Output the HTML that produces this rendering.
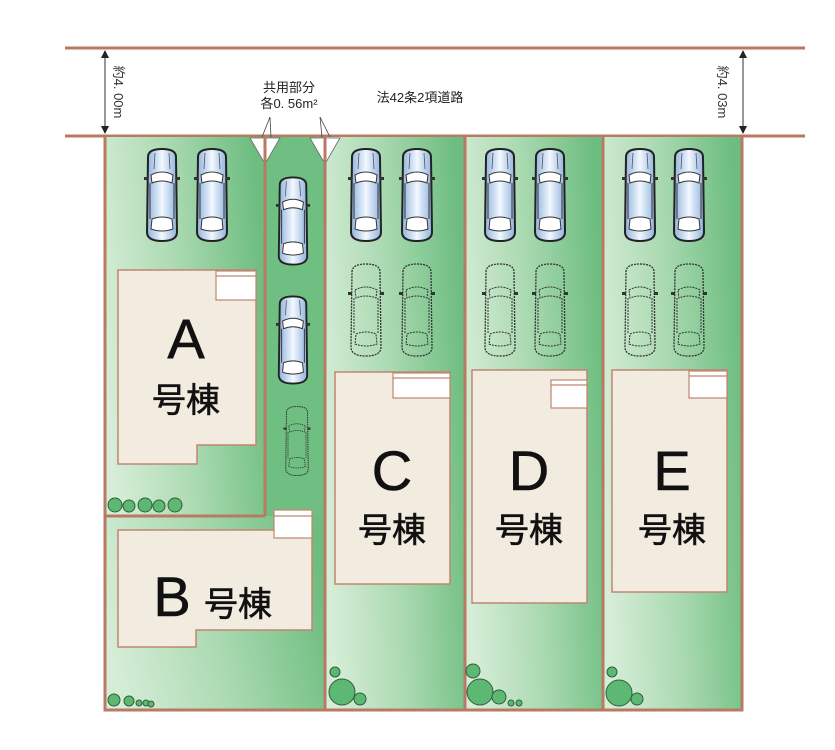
<!DOCTYPE html>
<html><head><meta charset="utf-8"><style>
html,body{margin:0;padding:0;background:#fff;width:835px;height:750px;overflow:hidden}
svg text{font-family:"Liberation Sans","Noto Sans CJK JP",sans-serif}
</style></head><body>
<svg width="835" height="750" viewBox="0 0 835 750" xmlns="http://www.w3.org/2000/svg">
<defs>
<linearGradient id="g" x1="0" y1="0.6" x2="1" y2="0.4">
<stop offset="0" stop-color="#d6edd7"/><stop offset="0.5" stop-color="#a9d9b0"/><stop offset="1" stop-color="#6dbd80"/>
</linearGradient>
<linearGradient id="cb" x1="0" y1="0" x2="1" y2="0">
<stop offset="0" stop-color="#8fb2dc"/><stop offset="0.5" stop-color="#f2f8ff"/><stop offset="1" stop-color="#8fb2dc"/>
</linearGradient>
<symbol id="car" viewBox="0 0 38 96">
<path d="M5 10 Q5 2 19 2 Q33 2 33 10 L34 85 Q34 94 19 94 Q4 94 4 85 Z" fill="url(#cb)" stroke="#222" stroke-width="2"/>
<path d="M8 28 Q19 22 30 28 L29 36 Q19 32 9 36 Z" fill="#fff" stroke="#333" stroke-width="1"/>
<path d="M9 72 Q19 68 29 72 L30 82 Q19 86 8 82 Z" fill="#fff" stroke="#333" stroke-width="1"/>
<line x1="7" y1="36" x2="7" y2="72" stroke="#333" stroke-width="1"/>
<line x1="31" y1="36" x2="31" y2="72" stroke="#333" stroke-width="1"/>
<path d="M12 6 L11 22 M26 6 L27 22" stroke="#555" stroke-width="0.8" fill="none"/>
<rect x="1" y="30" width="4" height="3" fill="#333"/><rect x="33" y="30" width="4" height="3" fill="#333"/>
</symbol>
<symbol id="ghost" viewBox="0 0 38 96">
<path d="M5 10 Q5 2 19 2 Q33 2 33 10 L34 85 Q34 94 19 94 Q4 94 4 85 Z" fill="none" stroke="#333" stroke-width="1.3" stroke-dasharray="2 1"/>
<path d="M8 28 Q19 22 30 28 L29 36 Q19 32 9 36 Z" fill="none" stroke="#333" stroke-width="1" stroke-dasharray="2 1"/>
<path d="M9 72 Q19 68 29 72 L30 82 Q19 86 8 82 Z" fill="none" stroke="#333" stroke-width="1" stroke-dasharray="2 1"/>
<line x1="7" y1="36" x2="7" y2="72" stroke="#333" stroke-width="1" stroke-dasharray="2 1"/>
<line x1="31" y1="36" x2="31" y2="72" stroke="#333" stroke-width="1" stroke-dasharray="2 1"/>
<rect x="1" y="30" width="4" height="3" fill="#333"/><rect x="33" y="30" width="4" height="3" fill="#333"/>
</symbol>
</defs>

<!-- road -->
<line x1="65" y1="48" x2="805" y2="48" stroke="#b87a62" stroke-width="3"/>
<line x1="65" y1="136" x2="805" y2="136" stroke="#b87a62" stroke-width="3"/>
<line x1="105" y1="52" x2="105" y2="132" stroke="#333" stroke-width="1"/>
<path d="M101 58 L105 50 L109 58 Z M101 126 L105 134 L109 126 Z" fill="#222"/>
<line x1="743" y1="52" x2="743" y2="132" stroke="#333" stroke-width="1"/>
<path d="M739 58 L743 50 L747 58 Z M739 126 L743 134 L747 126 Z" fill="#222"/>
<text transform="translate(114,92) rotate(90)" font-size="13" text-anchor="middle" fill="#333">約4. 00m</text>
<text transform="translate(718,92) rotate(90)" font-size="13" text-anchor="middle" fill="#333">約4. 03m</text>
<text x="289" y="92" font-size="13" text-anchor="middle" fill="#222">共用部分</text>
<text x="289" y="108" font-size="13" text-anchor="middle" fill="#222">各0. 56m²</text>
<text x="420" y="102" font-size="13" text-anchor="middle" fill="#222">法42条2項道路</text>

<!-- lots -->
<rect x="105" y="137" width="160" height="379" fill="url(#g)"/>
<rect x="105" y="516" width="220" height="194" fill="url(#g)"/>
<rect x="265" y="137" width="60" height="379" fill="#6fbf82"/>
<rect x="325" y="137" width="140" height="573" fill="url(#g)"/>
<rect x="465" y="137" width="138" height="573" fill="url(#g)"/>
<rect x="603" y="137" width="139" height="573" fill="url(#g)"/>
<g stroke="#b87a62" stroke-width="3" fill="none">
<path d="M105 136 L105 710 L742 710 L742 136"/>
<line x1="265" y1="136" x2="265" y2="516"/>
<line x1="105" y1="516" x2="265" y2="516"/>
<line x1="325" y1="136" x2="325" y2="710"/>
<line x1="465" y1="136" x2="465" y2="710"/>
<line x1="603" y1="136" x2="603" y2="710"/>
</g>
<!-- triangles -->
<path d="M250 138 L265 164 L280 138 Z M310 138 L325 164 L340 138 Z" fill="#fff" stroke="#666" stroke-width="0.8"/>
<line x1="265" y1="137" x2="265" y2="164" stroke="#b87a62" stroke-width="3"/>
<line x1="325" y1="137" x2="325" y2="164" stroke="#b87a62" stroke-width="3"/>
<path d="M270 117 L262 137 M270 117 L271 137 M320 117 L322 137 M320 117 L330 137" stroke="#444" stroke-width="0.8"/>

<!-- houses -->
<g fill="#f2ece0" stroke="#c08670" stroke-width="1.5">
<path d="M118 270 L256 270 L256 445 L197 445 L197 464 L118 464 Z"/>
<path d="M118 530 L312 530 L312 630 L196 630 L196 647 L118 647 Z"/>
<rect x="335" y="372" width="115" height="212"/>
<rect x="472" y="370" width="115" height="233"/>
<rect x="612" y="370" width="115" height="222"/>
</g>
<g fill="#fff" stroke="#c08670" stroke-width="1.2">
<rect x="216" y="271" width="40" height="29"/><line x1="216" y1="276" x2="256" y2="276"/>
<rect x="274" y="510" width="38" height="28"/><line x1="274" y1="516" x2="312" y2="516"/>
<rect x="393" y="373" width="57" height="25"/><line x1="393" y1="378" x2="450" y2="378"/>
<rect x="551" y="380" width="36" height="28"/><line x1="551" y1="385" x2="587" y2="385"/>
<rect x="689" y="371" width="38" height="27"/><line x1="689" y1="376" x2="727" y2="376"/>
</g>

<!-- labels -->
<g fill="#111" text-anchor="middle" stroke="#111" stroke-width="0.6">
<text x="186" y="358" font-size="56">A</text>
<text x="186" y="412" font-size="34">号棟</text>
<text x="172" y="616" font-size="56">B</text>
<text x="238" y="616" font-size="34">号棟</text>
<text x="392" y="490" font-size="56">C</text>
<text x="392" y="542" font-size="34">号棟</text>
<text x="529" y="490" font-size="56">D</text>
<text x="529" y="542" font-size="34">号棟</text>
<text x="672" y="490" font-size="56">E</text>
<text x="672" y="542" font-size="34">号棟</text>
</g>

<!-- cars -->
<use href="#car" x="143" y="147" width="38" height="96"/>
<use href="#car" x="193" y="147" width="38" height="96"/>
<use href="#car" x="347" y="147" width="38" height="96"/>
<use href="#car" x="398" y="147" width="38" height="96"/>
<use href="#car" x="481" y="147" width="38" height="96"/>
<use href="#car" x="531" y="147" width="38" height="96"/>
<use href="#car" x="621" y="147" width="38" height="96"/>
<use href="#car" x="670" y="147" width="38" height="96"/>
<use href="#car" x="275" y="173" width="36" height="96"/>
<use href="#car" x="275" y="291" width="36" height="98"/>
<use href="#ghost" x="281" y="405" width="32" height="72"/>
<use href="#ghost" x="347" y="262" width="38" height="96"/>
<use href="#ghost" x="398" y="262" width="38" height="96"/>
<use href="#ghost" x="481" y="262" width="38" height="96"/>
<use href="#ghost" x="531" y="262" width="38" height="96"/>
<use href="#ghost" x="621" y="262" width="38" height="96"/>
<use href="#ghost" x="670" y="262" width="38" height="96"/>

<!-- shrubs -->
<g fill="#5cb873" stroke="#2f5f3a" stroke-width="1">
<circle cx="115" cy="505" r="7"/><circle cx="129" cy="506" r="6"/><circle cx="145" cy="505" r="7"/><circle cx="159" cy="506" r="6"/><circle cx="175" cy="505" r="7"/>
<circle cx="114" cy="700" r="6"/><circle cx="129" cy="701" r="5"/><circle cx="139" cy="703" r="3"/><circle cx="146" cy="703" r="3"/><circle cx="151" cy="704" r="3"/>
<circle cx="335" cy="672" r="5"/><circle cx="342" cy="692" r="13"/><circle cx="360" cy="699" r="6"/>
<circle cx="473" cy="671" r="7"/><circle cx="480" cy="692" r="13"/><circle cx="499" cy="697" r="7"/><circle cx="511" cy="703" r="3"/><circle cx="519" cy="703" r="3"/>
<circle cx="612" cy="672" r="5"/><circle cx="619" cy="693" r="13"/><circle cx="637" cy="699" r="6"/>
</g>
</svg>
</body></html>
